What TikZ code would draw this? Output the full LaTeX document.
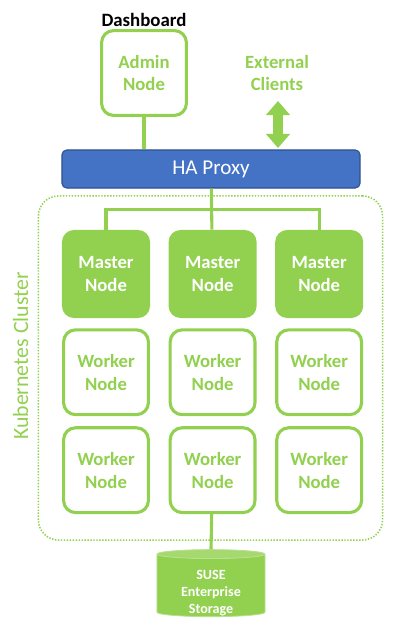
\documentclass[tikz,border=0pt]{standalone}
\usepackage{fontspec}
\setmainfont{Carlito}
\usepackage{xcolor}
\usepackage{tikz}
\usetikzlibrary{shapes.geometric, arrows.meta, positioning, fit, calc}
\definecolor{susegreen}{HTML}{92D050}
\definecolor{proxyblue}{HTML}{4472C4}
\definecolor{proxyedge}{HTML}{2F528F}

\begin{document}
\begin{tikzpicture}[
    x=0.025cm, y=-0.025cm,
    node distance=0.25cm and 0.45cm,
    master/.style={rectangle, fill=susegreen, text=white, minimum width=2.2cm, minimum height=2.2cm, align=center, rounded corners=0.3cm, font=\fontsize{13.3}{16.3}\selectfont\bfseries},
    worker/.style={rectangle, draw=susegreen, line width=2.2pt, fill=white, text=susegreen, minimum width=2.12cm, minimum height=2.12cm, align=center, rounded corners=0.3cm, font=\fontsize{13.3}{16.3}\selectfont\bfseries},
    proxy/.style={rectangle, fill=proxyblue, draw=proxyedge, line width=0.8pt, text=white, minimum width=7.45cm, minimum height=0.95cm, rounded corners=0.12cm, font=\fontsize{15}{18}\selectfont},
    link/.style={draw=susegreen, line width=2.2pt},
    biarrow/.style={draw=susegreen, line width=6.6pt, {Triangle[length=0.35cm, width=0.58cm]}-{Triangle[length=0.35cm, width=0.58cm]}}
]
\useasboundingbox (0,0) rectangle (400,638);

% Cluster frame
\node (cluster) [draw=susegreen, line width=1.1pt, dash pattern=on 1pt off 1.1pt, rounded corners=0.5cm, minimum width=8.6cm, minimum height=8.6cm] at (210.5,368) {};
\node (k8s) [rotate=90, anchor=base, text=susegreen, font=\fontsize{15.5}{18}\selectfont] at (28,356) {Kubernetes Cluster};

% Top
\node (dash) [font=\fontsize{13.4}{16}\selectfont\bfseries] at (144,20) {Dashboard};
\node (admin) [worker] at (144,73) {Admin\\Node};
\node (clients) [text=susegreen, align=center, font=\fontsize{13.3}{16.3}\selectfont\bfseries] at (277,73) {External\\Clients};
\node (haproxy) [proxy] at (211,169) {HA Proxy};

% Masters
\node (master1) [master] at (106,274) {Master\\Node};
\node (master2) [master, right=of master1] {Master\\Node};
\node (master3) [master, right=of master2] {Master\\Node};

% Workers
\node (worker11) [worker, below=of master1] {Worker\\Node};
\node (worker12) [worker, below=of master2] {Worker\\Node};
\node (worker13) [worker, below=of master3] {Worker\\Node};
\node (worker21) [worker, below=of worker11] {Worker\\Node};
\node (worker22) [worker, below=of worker12] {Worker\\Node};
\node (worker23) [worker, below=of worker13] {Worker\\Node};

% Storage
\node (storage) [cylinder, shape border rotate=90, aspect=0.95, cylinder uses custom fill, cylinder body fill=susegreen, cylinder end fill=susegreen!82!white, draw=susegreen!65!white, line width=0.6pt, minimum width=2.7cm, minimum height=1.675cm] at (211,586.5) {};
\node (storagetxt) [text=white, align=center, font=\fontsize{10}{12}\selectfont\bfseries] at (211,593) {SUSE\\Enterprise\\Storage};

% Links
\draw[link] (admin) -- (admin |- haproxy.north);
\draw[link] (haproxy) -- (master2);
\draw[link] (master1.north) -- ++(0,-20) -| (master3.north);
\draw[link] (worker22) -- (storage.north);

% Clients arrow
\coordinate (arrtop) at (278,101);
\coordinate (arrbot) at (278,148);
\draw[biarrow] (arrtop) -- (arrbot);

\end{tikzpicture}
\end{document}
